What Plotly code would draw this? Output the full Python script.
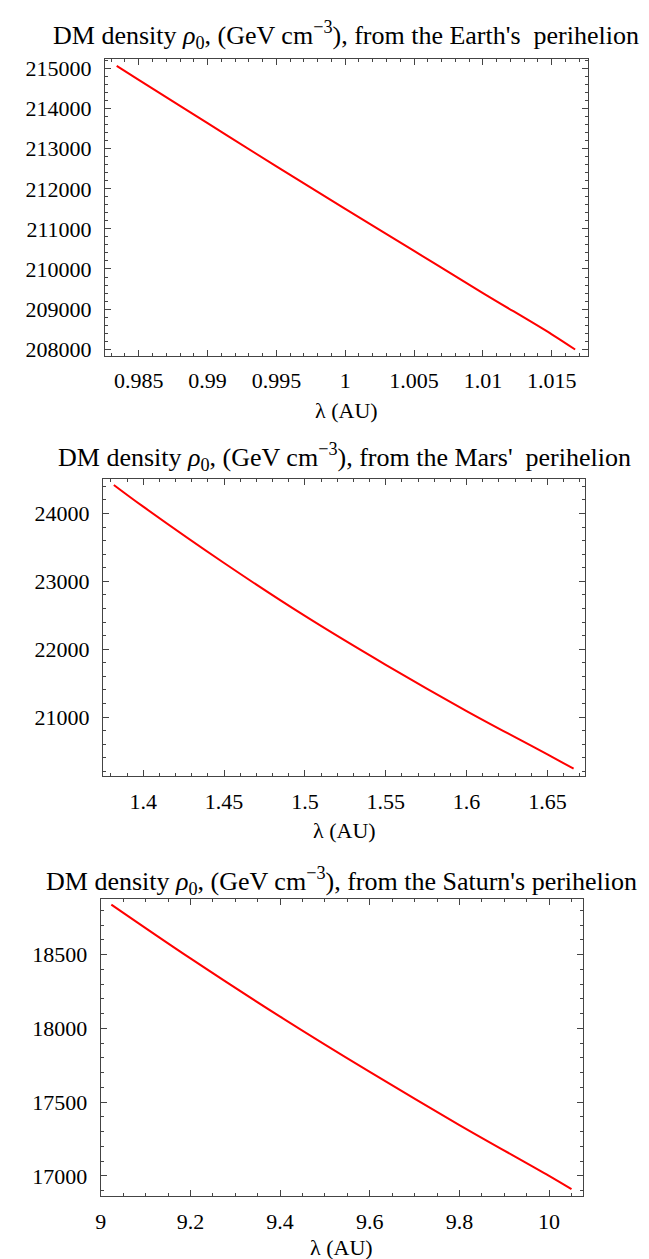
import plotly.graph_objects as go

# ---- data ----
earth_lambda = [0.9834, 0.985, 0.99, 0.995, 1.0, 1.005, 1.01, 1.015, 1.0167]
earth_rho = [215070, 214720, 213640, 212560, 211500, 210450, 209400, 208370, 207990]

mars_lambda = [1.3818, 1.40, 1.45, 1.50, 1.55, 1.60, 1.65, 1.6662]
mars_rho = [24420, 24100, 23270, 22490, 21770, 21090, 20450, 20240]

saturn_lambda = [9.0235, 9.2, 9.4, 9.6, 9.8, 10.0, 10.05]
saturn_rho = [18840, 18475, 18080, 17705, 17345, 17000, 16910]

earth_xticks = [0.985, 0.99, 0.995, 1.0, 1.005, 1.01, 1.015]
earth_xlabels = ["0.985", "0.99", "0.995", "1", "1.005", "1.01", "1.015"]
earth_yticks = [208000, 209000, 210000, 211000, 212000, 213000, 214000, 215000]
earth_ylabels = [str(v) for v in earth_yticks]

mars_xticks = [1.4, 1.45, 1.5, 1.55, 1.6, 1.65]
mars_xlabels = ["1.4", "1.45", "1.5", "1.55", "1.6", "1.65"]
mars_yticks = [21000, 22000, 23000, 24000]
mars_ylabels = [str(v) for v in mars_yticks]

saturn_xticks = [9.0, 9.2, 9.4, 9.6, 9.8, 10.0]
saturn_xlabels = ["9", "9.2", "9.4", "9.6", "9.8", "10"]
saturn_yticks = [17000, 17500, 18000, 18500]
saturn_ylabels = [str(v) for v in saturn_yticks]

titles = [
    "DM density <i>ρ</i><sub>0</sub>, (GeV cm<sup>−3</sup>), from the Earth's\u00a0 perihelion",
    "DM density <i>ρ</i><sub>0</sub>, (GeV cm<sup>−3</sup>), from the Mars'\u00a0 perihelion",
    "DM density <i>ρ</i><sub>0</sub>, (GeV cm<sup>−3</sup>), from the Saturn's perihelion",
]
xlabel = "λ (AU)"

# ---- layout geometry (pixels) ----
W, H = 649, 1259
FONT = "Liberation Serif"

panels = [
    dict(x=earth_lambda, y=earth_rho, xr=[0.98255, 1.0176], yr=[207834, 215248],
         box=(92.7, 49, 579, 348), xt=earth_xticks, xl=earth_xlabels, yt=earth_yticks, yl=earth_ylabels,
         xminor=dict(tick0=0.98, dtick=0.001), yminor=dict(tick0=200000, dtick=200),
         title_y=25, xlab_y=403),
    dict(x=mars_lambda, y=mars_rho, xr=[1.3751, 1.6734], yr=[20131, 24512],
         box=(90.7, 471.7, 576.7, 771), xt=mars_xticks, xl=mars_xlabels, yt=mars_yticks, yl=mars_ylabels,
         xminor=dict(tick0=1.3, dtick=0.01), yminor=dict(tick0=20000, dtick=200),
         title_y=450, xlab_y=826),
    dict(x=saturn_lambda, y=saturn_rho, xr=[8.9996, 10.0747], yr=[16863, 18879],
         box=(88.3, 894.5, 574, 1193.7), xt=saturn_xticks, xl=saturn_xlabels, yt=saturn_yticks, yl=saturn_ylabels,
         xminor=dict(tick0=9.0, dtick=0.05), yminor=dict(tick0=16000, dtick=100),
         title_y=877, xlab_y=1245),
]

fig = go.Figure()
layout = dict(width=W, height=H, margin=dict(l=0, r=0, t=0, b=0),
              paper_bgcolor="white", plot_bgcolor="white", showlegend=False,
              font=dict(family=FONT, color="black", size=22))
annotations = []
frame_col = "#444444"

for i, p in enumerate(panels):
    n = "" if i == 0 else str(i + 1)
    x0, y0, x1, y1 = p["box"]
    fig.add_trace(go.Scatter(x=p["x"], y=p["y"], mode="lines",
                             line=dict(color="#ff0000", width=2, shape="spline"),
                             xaxis="x" + n, yaxis="y" + n, hoverinfo="skip"))
    common = dict(showline=True, linecolor=frame_col, linewidth=1, mirror="allticks",
                  ticks="inside", ticklen=6, tickwidth=1, tickcolor=frame_col,
                  showgrid=False, zeroline=False,
                  tickfont=dict(family=FONT, size=22, color="black"))
    layout["xaxis" + n] = dict(common, domain=[x0 / W, x1 / W], range=p["xr"], ticklabelstandoff=5,
                               anchor="y" + n, tickmode="array", tickvals=p["xt"], ticktext=p["xl"],
                               minor=dict(ticks="inside", ticklen=3, tickwidth=1, tickcolor=frame_col,
                                          showgrid=False, **p["xminor"]))
    layout["yaxis" + n] = dict(common, domain=[1 - y1 / H, 1 - y0 / H], range=p["yr"], ticklabelstandoff=8,
                               anchor="x" + n, tickmode="array", tickvals=p["yt"], ticktext=p["yl"],
                               minor=dict(ticks="inside", ticklen=3, tickwidth=1, tickcolor=frame_col,
                                          showgrid=False, **p["yminor"]))
    cx = (x0 + x1) / 2 / W
    annotations.append(dict(text=titles[i], x=cx, y=1 - p["title_y"] / H, xref="paper", yref="paper",
                            xanchor="center", yanchor="middle", showarrow=False,
                            font=dict(family=FONT, size=26, color="black")))
    annotations.append(dict(text=xlabel, x=cx, y=1 - p["xlab_y"] / H, xref="paper", yref="paper",
                            xanchor="center", yanchor="middle", showarrow=False,
                            font=dict(family=FONT, size=22, color="black")))

layout["annotations"] = annotations
fig.update_layout(**layout)
fig.write_html("out.html")
